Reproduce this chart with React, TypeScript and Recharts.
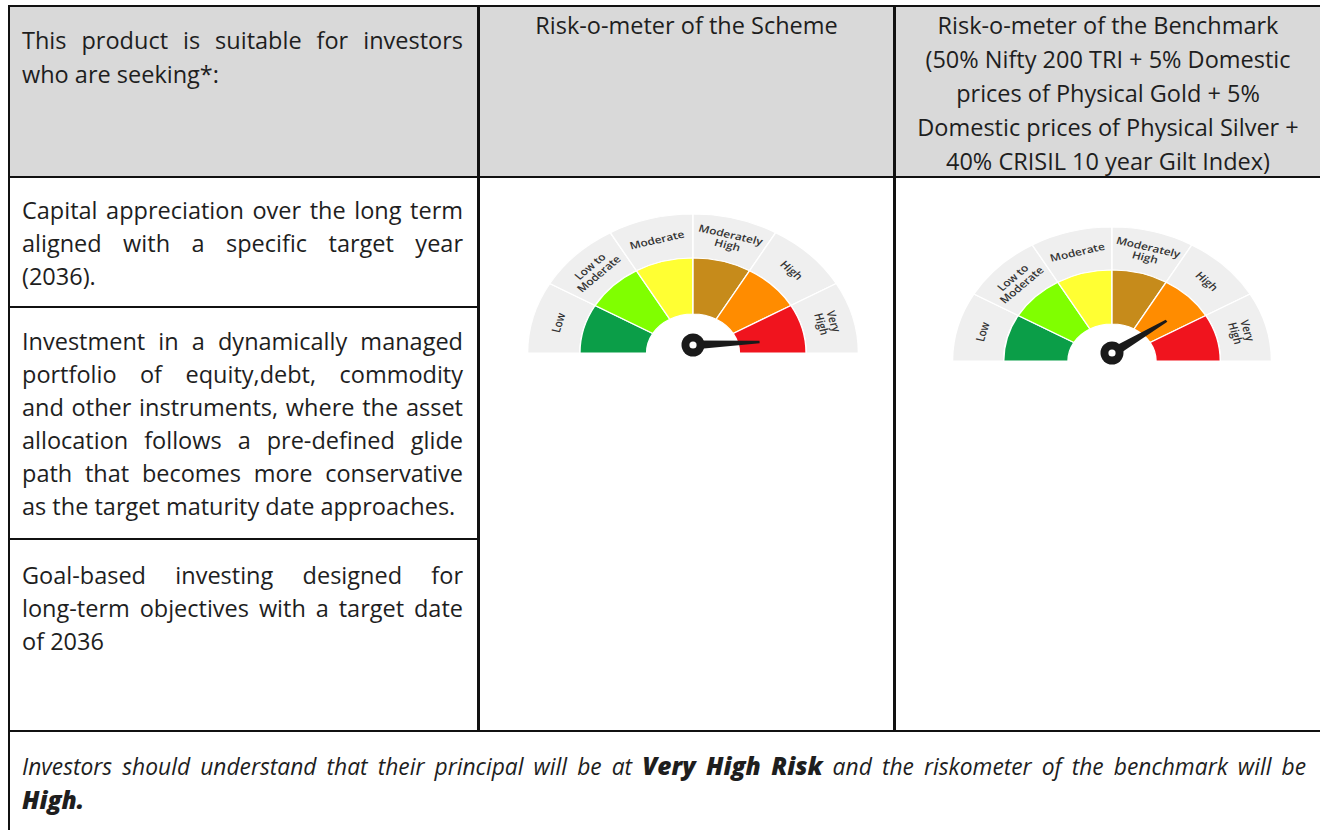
import React from 'react';
import { PieChart, Pie, Cell } from 'recharts';

// risk bands of the riskometer, left to right
const riskLevels = ['Low', 'Low to Moderate', 'Moderate', 'Moderately High', 'High', 'Very High'];
const riskLabelLines = [['Low'], ['Low to', 'Moderate'], ['Moderate'], ['Moderately', 'High'], ['High'], ['Very', 'High']];
const riskColors = ['#0b9e48', '#80ff00', '#ffff33', '#c68b1b', '#ff8c00', '#f0141e'];
const bandValues = [1, 1, 1, 1, 1, 1];

// needle position on the 0..6 band scale
const schemeNeedle = 5.9;
const benchmarkNeedle = 4.83;

const headerLeftLines = ['This product is suitable for investors', 'who are seeking*:'];
const schemeTitle = 'Risk-o-meter of the Scheme';
const benchmarkTitleLines = [
  'Risk-o-meter of the Benchmark',
  '(50% Nifty 200 TRI + 5% Domestic',
  'prices of Physical Gold + 5%',
  'Domestic prices of Physical Silver +',
  '40% CRISIL 10 year Gilt Index)',
];
const objective1Lines = ['Capital appreciation over the long term', 'aligned with a specific target year', '(2036).'];
const objective2Lines = [
  'Investment in a dynamically managed',
  'portfolio of equity,debt, commodity',
  'and other instruments, where the asset',
  'allocation follows a pre-defined glide',
  'path that becomes more conservative',
  'as the target maturity date approaches.',
];
const objective3Lines = ['Goal-based investing designed for', 'long-term objectives with a target date', 'of 2036'];

const FONT = "'Open Sans', sans-serif";
const TEXT = '#1e1e1e';
const SX = 1.19; // the gauges are drawn a little wider than tall
const HUB_LIFT = 8;
const RAD = Math.PI / 180;

const bandData = riskLevels.map((name, i) => ({ name, value: bandValues[i] }));

const renderBandLabel = (p: any) => {
  const r = (p.innerRadius + p.outerRadius) / 2;
  const x = p.cx + r * Math.cos(-p.midAngle * RAD);
  const y = p.cy + r * Math.sin(-p.midAngle * RAD);
  const lines = riskLabelLines[p.index];
  const first = -((lines.length - 1) * 1.05) / 2 + 0.35;
  return (
    <text
      x={x}
      y={y}
      transform={`rotate(${90 - p.midAngle} ${x} ${y})`}
      textAnchor="middle"
      fontFamily="'Open Sans', sans-serif"
      fontWeight={600}
      fontSize={10}
      fill="#333"
    >
      {lines.map((l, i) => (
        <tspan key={i} x={x} dy={i === 0 ? `${first}em` : '1.05em'}>
          {l}
        </tspan>
      ))}
    </text>
  );
};

const renderNeedle = (p: any) => {
  if (p.index !== 0) return null;
  const a = -p.endAngle * RAD;
  const hx = p.cx;
  const hy = p.cy - HUB_LIFT;
  const len = 56;
  const tx = hx + len * Math.cos(a);
  const ty = hy + len * Math.sin(a);
  const nx = -Math.sin(a);
  const ny = Math.cos(a);
  const w0 = 4.5;
  const w1 = 1.2;
  const pts = [
    [hx + nx * w0, hy + ny * w0],
    [tx + nx * w1, ty + ny * w1],
    [tx - nx * w1, ty - ny * w1],
    [hx - nx * w0, hy - ny * w0],
  ]
    .map((q) => q.join(','))
    .join(' ');
  return (
    <g>
      <polygon points={pts} fill="#1a1a1a" />
      <ellipse cx={hx} cy={hy} rx={11.5 / SX} ry={11.5} fill="#1a1a1a" />
      <ellipse cx={hx} cy={hy} rx={3.6 / SX} ry={3.6} fill="#fff" />
    </g>
  );
};

const Gauge = ({ left, top, needle, rOuter, rBand, rInner }: any) => {
  const needleData = [
    { name: 'needle', value: needle },
    { name: 'rest', value: bandValues.length - needle },
  ];
  return (
    <div style={{ position: 'absolute', left, top, transform: `scaleX(${SX})`, transformOrigin: '170px 150px' }}>
      <PieChart width={340} height={160} margin={{ top: 0, right: 0, bottom: 0, left: 0 }}>
        <Pie
          data={bandData}
          dataKey="value"
          cx={170}
          cy={150}
          startAngle={180}
          endAngle={0}
          innerRadius={rBand}
          outerRadius={rOuter}
          fill="#efefef"
          stroke="#fff"
          strokeWidth={1.2}
          label={renderBandLabel}
          labelLine={false}
          isAnimationActive={false}
        />
        <Pie
          data={bandData}
          dataKey="value"
          cx={170}
          cy={150}
          startAngle={180}
          endAngle={0}
          innerRadius={rInner}
          outerRadius={rBand}
          stroke="#fff"
          strokeWidth={1.2}
          isAnimationActive={false}
        >
          {riskColors.map((c, i) => (
            <Cell key={i} fill={c} />
          ))}
        </Pie>
        <Pie
          data={needleData}
          dataKey="value"
          cx={170}
          cy={150}
          startAngle={180}
          endAngle={0}
          innerRadius={0}
          outerRadius={1}
          fill="none"
          stroke="none"
          label={renderNeedle}
          labelLine={false}
          isAnimationActive={false}
        />
      </PieChart>
    </div>
  );
};

const TextLine = ({ text, x, y, w, justify, align = 'left', lh = 33, style }: any) => (
  <div
    style={{
      position: 'absolute',
      left: x,
      top: y - lh / 2,
      width: w,
      height: lh,
      lineHeight: `${lh}px`,
      textAlign: justify ? 'justify' : align,
      textAlignLast: justify ? 'justify' : align,
      whiteSpace: justify ? 'normal' : 'nowrap',
      ...style,
    }}
  >
    {text}
  </div>
);

const Block = ({ lines, x, y0, w, lh = 33, justifyAll = true, align = 'left' }: any) => (
  <>
    {lines.map((t: string, i: number) => (
      <TextLine
        key={i}
        text={t}
        x={x}
        y={y0 + i * lh}
        w={w}
        lh={lh}
        align={align}
        justify={justifyAll && i < lines.length - 1}
      />
    ))}
  </>
);

const Rule = ({ x, y, w, h }: any) => (
  <div style={{ position: 'absolute', left: x, top: y, width: w, height: h, background: '#111' }} />
);

const strong = { fontWeight: 800, fontSize: 24.5 };

const App: React.FC = () => {
  return (
    <div
      style={{
        position: 'absolute',
        left: 0,
        top: 0,
        width: 1320,
        height: 830,
        overflow: 'hidden',
        background: '#fff',
        fontFamily: FONT,
        fontSize: 23.5,
        color: TEXT,
      }}
    >
      {/* header band */}
      <div style={{ position: 'absolute', left: 10, top: 7, width: 1310, height: 169, background: '#d9d9d9' }} />

      {/* grid lines */}
      <Rule x={8} y={5} w={1312} h={2} />
      <Rule x={8} y={5} w={2} h={825} />
      <Rule x={8} y={176} w={1312} h={2} />
      <Rule x={477} y={5} w={3} h={726} />
      <Rule x={893} y={5} w={3} h={726} />
      <Rule x={10} y={306} w={467} h={2} />
      <Rule x={10} y={538} w={467} h={2} />
      <Rule x={8} y={730} w={1312} h={2} />

      {/* header texts */}
      <Block lines={headerLeftLines} x={22} y0={40} w={441} lh={34} />
      <TextLine text={schemeTitle} x={480} y={25} w={413} align="center" lh={34} />
      <Block lines={benchmarkTitleLines} x={896} y0={25} w={424} lh={34} justifyAll={false} align="center" />

      {/* objectives */}
      <Block lines={objective1Lines} x={22} y0={210} w={441} />
      <Block lines={objective2Lines} x={22} y0={341} w={441} />
      <Block lines={objective3Lines} x={22} y0={575} w={441} />

      {/* riskometers */}
      <Gauge left={693 - 170} top={353 - 150} needle={schemeNeedle} rOuter={139} rBand={95} rInner={39} />
      <Gauge left={1112 - 170} top={361 - 150} needle={benchmarkNeedle} rOuter={134} rBand={91} rInner={37} />

      {/* footer */}
      <TextLine
        x={22}
        y={766}
        w={1284}
        lh={34}
        justify
        style={{ fontStyle: 'italic', fontSize: 22.8 }}
        text={
          <>
            Investors should understand that their principal will be at <b style={strong}>Very High Risk</b> and the
            riskometer of the benchmark will be
          </>
        }
      />
      <TextLine
        x={22}
        y={800}
        w={1284}
        lh={34}
        style={{ fontStyle: 'italic' }}
        text={<b style={strong}>High.</b>}
      />
    </div>
  );
};

export default App;
